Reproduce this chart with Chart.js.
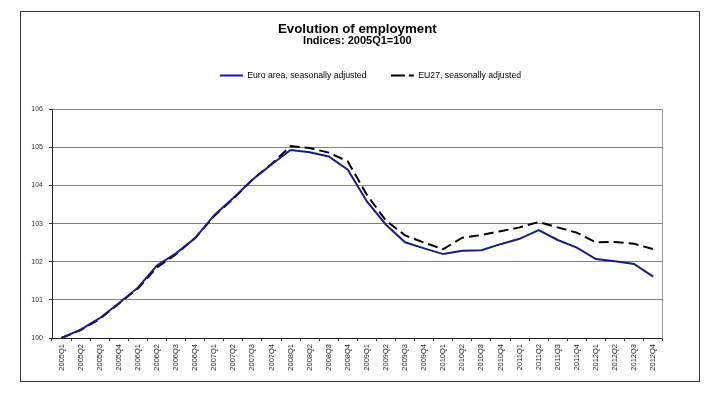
<!DOCTYPE html>
<html>
<head>
<meta charset="utf-8">
<script src="https://cdn.jsdelivr.net/npm/chart.js@4.4.1/dist/chart.umd.min.js"></script>
<style>
  html, body { margin: 0; padding: 0; background: #fff; }
  #wrap { width: 720px; height: 398px; }
</style>
</head>
<body>
<div id="wrap"><canvas id="chart"></canvas></div>
<script>
// quarters 2005Q1 .. 2012Q4
const quarters = [];
for (let y = 2005; y <= 2012; y++) {
    for (let q = 1; q <= 4; q++) {
        quarters.push(y + 'Q' + q);
    }
}

const euroArea = [100.00, 100.22, 100.52, 100.91, 101.32, 101.90, 102.22, 102.62,
    103.22, 103.67, 104.15, 104.55, 104.93, 104.87, 104.76, 104.41,
    103.58, 102.97, 102.51, 102.35, 102.20, 102.29, 102.30, 102.46,
    102.60, 102.83, 102.57, 102.37, 102.07, 102.01, 101.94, 101.61];

const eu27 = [100.00, 100.21, 100.50, 100.90, 101.30, 101.85, 102.20, 102.62,
    103.20, 103.65, 104.15, 104.56, 105.03, 104.98, 104.86, 104.63,
    103.75, 103.08, 102.69, 102.50, 102.33, 102.63, 102.70, 102.80,
    102.90, 103.04, 102.90, 102.76, 102.51, 102.52, 102.47, 102.33];

const yTicks = [100, 101, 102, 103, 104, 105, 106];

const FONT = "'Liberation Sans', Arial, sans-serif";

// outer border of the figure
const framePlugin = {
    id: 'frame',
    beforeDraw(chart) {
        const ctx = chart.ctx;
        ctx.save();
        ctx.fillStyle = '#fff';
        ctx.fillRect(0, 0, chart.width, chart.height);
        ctx.strokeStyle = '#333';
        ctx.lineWidth = 1;
        ctx.strokeRect(20.5, 11.5, 679, 370);
        ctx.restore();
    }
};

const data = {
    labels: quarters,
    datasets: [
        {
            label: 'Euro area, seasonally adjusted',
            data: euroArea,
            borderColor: '#1c1c80',
            backgroundColor: '#1c1c80',
            borderWidth: 2,
            pointRadius: 0,
            fill: false,
        },
        {
            label: 'EU27, seasonally adjusted',
            data: eu27,
            borderColor: '#000000',
            backgroundColor: '#000000',
            borderWidth: 2,
            borderDash: [10, 5],
            pointRadius: 0,
            fill: false,
        },
    ]
};

const config = {
    type: 'line',
    data: data,
    plugins: [framePlugin],
    options: {
        responsive: false,
        animation: false,
        layout: {
            padding: { left: 21, right: 0, top: 11, bottom: 17 }
        },
        elements: {
            line: { tension: 0 }
        },
        scales: {
            x: {
                type: 'category',
                offset: true,
                grid: {
                    offset: true,
                    drawOnChartArea: false,
                    tickLength: 3,
                    color: '#333',
                },
                border: { color: '#222', width: 1 },
                ticks: {
                    autoSkip: false,
                    maxRotation: 90,
                    minRotation: 90,
                    padding: 3,
                    color: '#222',
                    font: { family: FONT, size: 7.5 },
                },
                afterFit: (scale) => { scale.height = 43; },
            },
            xTop: {
                type: 'category',
                position: 'top',
                grid: { display: false },
                border: { display: false },
                ticks: { display: false },
                afterFit: (scale) => { scale.height = 19.3; },
            },
            y: {
                min: 100,
                max: 106,
                afterBuildTicks: (scale) => {
                    scale.ticks = yTicks.map(v => ({ value: v }));
                },
                grid: {
                    color: '#808080',
                    lineWidth: 1,
                    tickLength: 3,
                    tickColor: '#333',
                },
                border: { color: '#222', width: 1 },
                ticks: {
                    padding: 6,
                    color: '#333',
                    font: { family: FONT, size: 7 },
                },
                afterFit: (scale) => { scale.width = 31; },
            },
            yRight: {
                position: 'right',
                min: 100,
                max: 106,
                grid: { display: false },
                border: { color: '#999', width: 1 },
                ticks: { display: false },
                afterFit: (scale) => { scale.width = 57.3; },
            },
        },
        plugins: {
            title: {
                display: true,
                fullSize: false,
                text: 'Evolution of employment',
                color: '#000',
                padding: { top: 11.5, bottom: 0 },
                font: { family: FONT, size: 13.3, weight: 'bold', lineHeight: 1 },
            },
            subtitle: {
                display: true,
                fullSize: false,
                text: 'Indices: 2005Q1=100',
                color: '#000',
                padding: { top: 0, bottom: 0 },
                font: { family: FONT, size: 11, weight: 'bold', lineHeight: 1 },
            },
            legend: {
                display: true,
                position: 'top',
                labels: {
                    usePointStyle: true,
                    pointStyle: 'line',
                    pointStyleWidth: 23,
                    padding: 24.35,
                    color: '#000',
                    font: { family: FONT, size: 8.7 },
                    // the line symbol is stroked there and back, so the dash
                    // pattern has to be symmetric to keep a visible gap
                    generateLabels(chart) {
                        const items = Chart.defaults.plugins.legend.labels.generateLabels(chart);
                        items[1].lineDash = [14, 4, 10, 4, 14];
                        return items;
                    },
                },
            },
            tooltip: { enabled: false },
        },
    },
};

const ctx = document.getElementById('chart').getContext('2d');
document.getElementById('chart').width = 720;
document.getElementById('chart').height = 398;
const chart = new Chart(ctx, config);
</script>
</body>
</html>
